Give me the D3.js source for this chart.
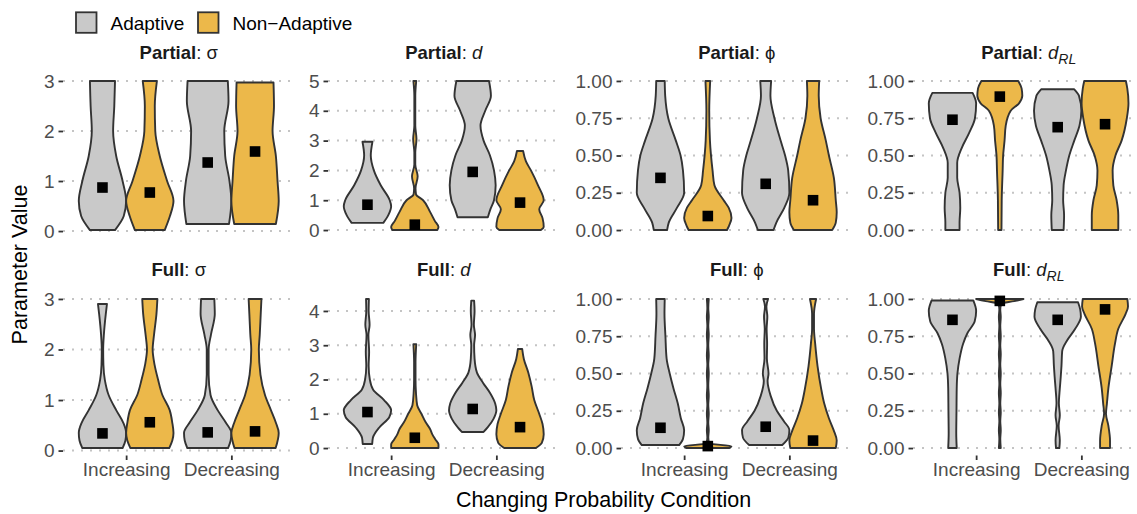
<!DOCTYPE html>
<html>
<head>
<meta charset="utf-8">
<style>
  body { margin: 0; background: #ffffff; }
  svg { font-family: "Liberation Sans", Arial, sans-serif; }
</style>
<script src="https://d3js.org/d3.v7.min.js"></script>
</head>
<body>
<svg width="1137" height="514"></svg>
<script>
// ---- data ----
var conditions = ["Increasing", "Decreasing"];
var groups = ["Adaptive", "Non\u2212Adaptive"];
var groupColors = ["#c9c9c9", "#ecb84a"];

var sigmaPartialTicks = [0, 1, 2, 3];
var dPartialTicks = [0, 1, 2, 3, 4, 5];
var sigmaFullTicks = [0, 1, 2, 3];
var dFullTicks = [0, 1, 2, 3, 4];
var probTicks = [0, 0.25, 0.5, 0.75, 1];

// means, order: Adaptive-Increasing, NonAdaptive-Increasing, Adaptive-Decreasing, NonAdaptive-Decreasing
var meansPartialSigma = [0.87, 0.77, 1.37, 1.59];
var meansPartialD = [0.85, 0.18, 1.95, 0.92];
var meansPartialPhi = [0.35, 0.094, 0.31, 0.20];
var meansPartialDRL = [0.74, 0.895, 0.69, 0.71];
var meansFullSigma = [0.34, 0.56, 0.36, 0.38];
var meansFullD = [1.05, 0.30, 1.14, 0.61];
var meansFullPhi = [0.136, 0.013, 0.143, 0.05];
var meansFullDRL = [0.86, 0.987, 0.86, 0.93];

// violin profiles: [value, relative density width]
var violinsPartialSigma = [
  [[0.02,0.53],[0.3,0.9],[0.6,1.0],[1.0,0.85],[1.5,0.58],[2.0,0.45],[2.5,0.5],[3.0,0.53]],
  [[0.02,0.63],[0.3,0.85],[0.6,1.0],[1.0,0.73],[1.5,0.42],[2.0,0.23],[2.5,0.21],[3.0,0.3]],
  [[0.14,0.9],[0.6,1.0],[1.0,0.92],[1.5,0.74],[2.0,0.7],[2.6,0.88],[3.0,0.85]],
  [[0.14,0.88],[0.6,1.0],[1.0,0.95],[1.5,0.88],[2.0,0.74],[2.5,0.8],[2.97,0.78]]
];
var violinsPartialD = [
  [[0.24,0.67],[0.5,0.88],[0.8,1.0],[1.0,0.94],[1.5,0.56],[2.0,0.27],[2.5,0.14],[2.96,0.21]],
  [[0,0.95],[0.1,1.0],[0.3,0.85],[0.6,0.65],[1.0,0.35],[1.2,0.05],[1.4,0.03],[1.8,0.12],[2.2,0.02],[2.6,0.02],[3.05,0.07],[3.5,0.02],[4.0,0.02],[4.5,0.02],[5.0,0.06]],
  [[0.43,0.64],[0.7,0.75],[1.0,0.9],[1.5,0.97],[2.0,0.9],[2.5,0.73],[3.0,0.46],[3.5,0.33],[4.0,0.53],[4.5,0.77],[5.0,0.69]],
  [[0,0.88],[0.1,1.0],[0.4,0.95],[0.7,0.81],[1.0,1.0],[1.5,0.76],[2.0,0.46],[2.3,0.25],[2.65,0.13]]
];
var violinsPartialPhi = [
  [[0,0.28],[0.05,0.35],[0.15,0.7],[0.25,1.0],[0.4,0.95],[0.5,0.85],[0.6,0.65],[0.75,0.33],[0.9,0.2],[1.0,0.18]],
  [[0,0.81],[0.03,0.9],[0.08,1.0],[0.15,0.88],[0.2,0.67],[0.3,0.28],[0.4,0.2],[0.6,0.09],[0.8,0.06],[1.0,0.1]],
  [[0,0.33],[0.05,0.45],[0.15,0.79],[0.25,1.0],[0.4,0.95],[0.5,0.82],[0.6,0.63],[0.75,0.37],[0.9,0.2],[1.0,0.23]],
  [[0,0.81],[0.05,0.96],[0.12,1.0],[0.2,0.96],[0.35,0.88],[0.5,0.67],[0.6,0.54],[0.75,0.32],[0.9,0.24],[1.0,0.26]]
];
var violinsPartialDRL = [
  [[0,0.3],[0.05,0.3],[0.15,0.33],[0.25,0.3],[0.35,0.2],[0.45,0.2],[0.55,0.39],[0.65,0.7],[0.75,0.95],[0.85,1.0],[0.92,0.85]],
  [[0,0.07],[0.2,0.08],[0.4,0.12],[0.5,0.14],[0.6,0.2],[0.7,0.25],[0.8,0.46],[0.85,0.81],[0.9,0.95],[0.95,0.92],[1.0,0.78]],
  [[0,0.25],[0.1,0.27],[0.2,0.23],[0.3,0.25],[0.4,0.35],[0.5,0.49],[0.6,0.7],[0.7,0.92],[0.8,1.0],[0.9,0.9],[0.944,0.7]],
  [[0,0.56],[0.1,0.56],[0.2,0.49],[0.3,0.35],[0.4,0.32],[0.5,0.44],[0.6,0.7],[0.75,0.92],[0.85,0.99],[0.95,0.94],[1.0,0.88]]
];
var violinsFullSigma = [
  [[0.05,0.85],[0.2,0.97],[0.35,1.0],[0.55,0.88],[0.8,0.58],[1.1,0.26],[1.4,0.1],[1.7,0.04],[2.0,0.03],[2.3,0.06],[2.7,0.14],[2.9,0.19]],
  [[0.05,0.82],[0.2,0.95],[0.35,1.0],[0.55,0.95],[0.8,0.84],[1.1,0.53],[1.4,0.35],[1.7,0.2],[2.0,0.12],[2.3,0.18],[2.7,0.28],[3.0,0.32]],
  [[0.05,0.86],[0.2,0.97],[0.35,1.0],[0.55,0.77],[0.8,0.42],[1.1,0.12],[1.5,0.04],[2.0,0.04],[2.3,0.14],[2.7,0.3],[3.0,0.28]],
  [[0.05,0.87],[0.35,1.0],[0.55,0.88],[0.8,0.67],[1.1,0.42],[1.5,0.23],[2.0,0.16],[2.3,0.2],[2.7,0.24],[3.0,0.27]]
];
var violinsFullD = [
  [[0.12,0.2],[0.3,0.23],[0.6,0.5],[0.9,0.92],[1.1,1.0],[1.4,0.7],[1.7,0.24],[2.0,0.1],[2.4,0.05],[2.8,0.07],[3.3,0.04],[3.6,0.09],[4.0,0.05],[4.35,0.06]],
  [[0,1.0],[0.1,1.0],[0.25,0.87],[0.4,0.74],[0.55,0.65],[0.75,0.46],[1.0,0.28],[1.25,0.1],[1.6,0.05],[2.0,0.03],[2.5,0.03],[3.03,0.06]],
  [[0.47,0.46],[0.6,0.63],[0.85,0.88],[1.1,1.0],[1.3,0.95],[1.6,0.74],[1.9,0.44],[2.2,0.18],[2.6,0.08],[3.0,0.06],[3.3,0.1],[3.6,0.05],[4.0,0.08],[4.3,0.06]],
  [[0,0.67],[0.15,0.92],[0.4,1.0],[0.7,0.95],[1.0,0.81],[1.4,0.6],[1.8,0.49],[2.2,0.35],[2.6,0.16],[2.89,0.09]]
];
var violinsFullPhi = [
  [[0.02,0.79],[0.06,0.95],[0.12,1.0],[0.2,0.86],[0.3,0.73],[0.4,0.55],[0.5,0.39],[0.6,0.26],[0.75,0.21],[0.9,0.17],[1.0,0.18]],
  [[0,0.9],[0.012,1.0],[0.03,0.06],[0.07,0.02],[0.12,0.04],[0.17,0.02],[0.23,0.04],[0.29,0.02],[0.35,0.04],[0.42,0.02],[0.5,0.04],[0.56,0.02],[0.62,0.04],[0.69,0.02],[0.76,0.04],[0.82,0.02],[0.88,0.04],[0.94,0.02],[1.0,0.04]],
  [[0.02,0.7],[0.07,0.96],[0.12,1.0],[0.18,0.77],[0.25,0.47],[0.35,0.21],[0.45,0.08],[0.5,0.12],[0.6,0.05],[0.7,0.06],[0.8,0.04],[0.88,0.07],[0.95,0.03],[1.0,0.1]],
  [[0,0.96],[0.05,1.0],[0.12,0.87],[0.2,0.67],[0.3,0.47],[0.4,0.34],[0.55,0.19],[0.7,0.09],[0.8,0.04],[0.9,0.04],[1.0,0.13]]
];
var violinsFullDRL = [
  [[0,0.18],[0.1,0.16],[0.25,0.17],[0.4,0.18],[0.5,0.21],[0.6,0.3],[0.7,0.45],[0.77,0.63],[0.85,0.94],[0.92,1.0],[0.99,0.88]],
  [[0,0.04],[0.06,0.02],[0.12,0.04],[0.18,0.02],[0.24,0.04],[0.3,0.02],[0.37,0.04],[0.43,0.02],[0.5,0.04],[0.56,0.02],[0.63,0.04],[0.69,0.02],[0.75,0.04],[0.82,0.02],[0.88,0.04],[0.93,0.02],[0.97,0.08],[0.985,0.6],[1.0,1.0]],
  [[0,0.07],[0.05,0.09],[0.15,0.04],[0.22,0.09],[0.3,0.05],[0.4,0.09],[0.48,0.13],[0.55,0.16],[0.65,0.19],[0.72,0.39],[0.8,0.74],[0.88,0.98],[0.93,0.95],[0.978,0.86]],
  [[0,0.21],[0.05,0.21],[0.15,0.14],[0.23,0.04],[0.3,0.08],[0.4,0.14],[0.55,0.28],[0.7,0.42],[0.8,0.56],[0.9,0.87],[0.95,0.97],[1.0,0.94]]
];

// ---- panels ----
var panels = [
  {model: "Partial", sym: "\u03c3", kind: "plain", ticks: sigmaPartialTicks, means: meansPartialSigma, violins: violinsPartialSigma},
  {model: "Partial", sym: "d", kind: "italic", ticks: dPartialTicks, means: meansPartialD, violins: violinsPartialD},
  {model: "Partial", sym: "\u03d5", kind: "plain", ticks: probTicks, means: meansPartialPhi, violins: violinsPartialPhi},
  {model: "Partial", sym: "d", kind: "sub", ticks: probTicks, means: meansPartialDRL, violins: violinsPartialDRL},
  {model: "Full", sym: "\u03c3", kind: "plain", ticks: sigmaFullTicks, means: meansFullSigma, violins: violinsFullSigma},
  {model: "Full", sym: "d", kind: "italic", ticks: dFullTicks, means: meansFullD, violins: violinsFullD},
  {model: "Full", sym: "\u03d5", kind: "plain", ticks: probTicks, means: meansFullPhi, violins: violinsFullPhi},
  {model: "Full", sym: "d", kind: "sub", ticks: probTicks, means: meansFullDRL, violins: violinsFullDRL}
];

var svg = d3.select("svg");
var panelLefts = [63, 328, 621, 913];
var panelW = 231.5;
var rowTops = [73.5, 291.5];
var panelH = 164;

panels.forEach(function(p, i) {
  var col = i % 4, row = Math.floor(i / 4);
  var left = panelLefts[col], top = rowTops[row];
  var g = svg.append("g").attr("transform", "translate(" + left + "," + top + ")");

  // y scale with ggplot-like 5% expansion of the data range
  var all = [];
  p.violins.forEach(function(v) { v.forEach(function(d) { all.push(d[0]); }); });
  var lo = d3.min(all), hi = d3.max(all), pad = (hi - lo) * 0.05;
  var y = d3.scaleLinear().domain([lo - pad, hi + pad]).range([panelH, 0]);

  var x = d3.scalePoint().domain(conditions).range([0, panelW]).padding(0.6);
  var step = x.step();
  var dodge = d3.scalePoint().domain(groups).range([-0.225 * step, 0.225 * step]);
  var hw = d3.scaleLinear().domain([0, 1]).range([0, 0.225 * step]);

  var fmt = p.ticks === probTicks ? d3.format(".2f") : d3.format("d");

  // grid
  g.selectAll(".grid").data(p.ticks).enter().append("line")
    .attr("x1", 0).attr("x2", panelW)
    .attr("y1", function(d) { return y(d); }).attr("y2", function(d) { return y(d); })
    .attr("stroke", "#c4c4c4").attr("stroke-width", 2)
    .attr("stroke-dasharray", "2 7");

  // y axis
  var yAxis = d3.axisLeft(y).tickValues(p.ticks).tickFormat(fmt).tickSize(4.5).tickPadding(4);
  var ya = g.append("g").call(yAxis);
  ya.select(".domain").remove();
  ya.selectAll(".tick line").attr("stroke", "#333333").attr("stroke-width", 1.8);
  ya.selectAll(".tick text").attr("fill", "#4d4d4d").attr("font-size", 19)
    .attr("font-family", "Liberation Sans, Arial, sans-serif");

  // x axis only on bottom row
  if (row === 1) {
    var xa = g.append("g").attr("transform", "translate(0," + panelH + ")")
      .call(d3.axisBottom(x).tickSize(4.5).tickPadding(3));
    xa.select(".domain").remove();
    xa.selectAll(".tick line").attr("stroke", "#333333").attr("stroke-width", 1.8);
    xa.selectAll(".tick text").attr("fill", "#4d4d4d").attr("font-size", 19)
      .attr("font-family", "Liberation Sans, Arial, sans-serif");
  }

  // violins
  p.violins.forEach(function(prof, k) {
    var cond = conditions[Math.floor(k / 2)], grp = groups[k % 2];
    var cx = x(cond) + dodge(grp);
    var area = d3.area()
      .y(function(d) { return y(d[0]); })
      .x0(function(d) { return cx - hw(d[1]); })
      .x1(function(d) { return cx + hw(d[1]); })
      .curve(d3.curveMonotoneY);
    g.append("path").datum(prof).attr("d", area)
      .attr("fill", groupColors[k % 2]).attr("stroke", "#333333")
      .attr("stroke-width", 1.9).attr("stroke-linejoin", "round");
  });

  // means
  p.means.forEach(function(m, k) {
    var cx = x(conditions[Math.floor(k / 2)]) + dodge(groups[k % 2]);
    g.append("rect").attr("x", cx - 5.3).attr("y", y(m) - 5.3)
      .attr("width", 10.6).attr("height", 10.6).attr("fill", "#000000");
  });

  // strip title
  var t = g.append("text").attr("x", panelW / 2).attr("y", row === 0 ? -15 : -16)
    .attr("text-anchor", "middle").attr("font-size", 18.5).attr("fill", "#1a1a1a");
  t.append("tspan").attr("font-weight", "bold").text(p.model);
  t.append("tspan").text(": ");
  if (p.kind === "plain") {
    t.append("tspan").text(p.sym);
  } else {
    t.append("tspan").attr("font-style", "italic").text(p.sym);
    if (p.kind === "sub") {
      t.append("tspan").attr("font-style", "italic").attr("font-size", 14)
        .attr("dy", 5).text("RL");
    }
  }
});

// axis titles
svg.append("text").attr("x", 603.5).attr("y", 507).attr("text-anchor", "middle")
  .attr("font-size", 21.5).attr("fill", "#000").text("Changing Probability Condition");
svg.append("text").attr("transform", "translate(27,264.5) rotate(-90)")
  .attr("text-anchor", "middle").attr("font-size", 21.5).attr("fill", "#000")
  .text("Parameter Value");

// legend
var legendX = [76, 198];
groups.forEach(function(gname, k) {
  svg.append("rect").attr("x", legendX[k]).attr("y", 12.3).attr("width", 20.5).attr("height", 20.5)
    .attr("fill", groupColors[k]).attr("stroke", "#333333").attr("stroke-width", 1.8);
  svg.append("text").attr("x", legendX[k] + 34.5).attr("y", 29.5)
    .attr("font-size", 19).attr("fill", "#000").text(gname);
});
</script>
</body>
</html>
